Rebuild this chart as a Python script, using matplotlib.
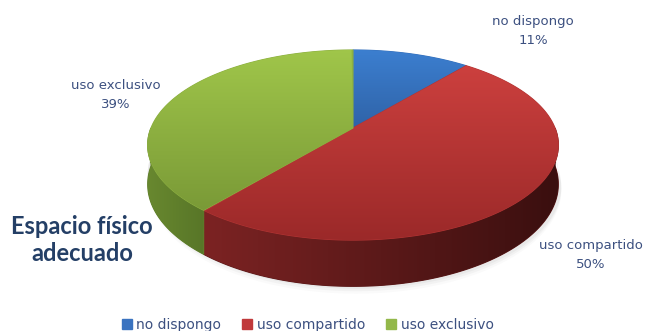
import numpy as np
import matplotlib
matplotlib.use("Agg")
import matplotlib.pyplot as plt
from matplotlib.path import Path
from matplotlib.patches import PathPatch, Polygon
from matplotlib.colors import to_rgb
from matplotlib.lines import Line2D

categories = ["no dispongo", "uso compartido", "uso exclusivo"]
shares = [11, 50, 39]

# top face (light, dark) and side wall (light, dark) per slice
top_colors = [("#3c7fd0", "#2f63a8"), ("#cc403e", "#9b2929"), ("#a0c64a", "#7a9a37")]
side_colors = [("#2c5a96", "#1d3d66"), ("#7c2323", "#3a0f0f"), ("#68882f", "#587628")]
legend_colors = ["#3a73c0", "#c0393b", "#93b84a"]
text_color = "#3c5080"

W, H = 645, 331
fig = plt.figure(figsize=(W / 100, H / 100), dpi=100)
ax = fig.add_axes([0, 0, 1, 1])
ax.set_xlim(0, W)
ax.set_ylim(H, 0)
ax.axis("off")

# simple perspective disc: centre, half-width, half-height, depth, perspective
cx, cy = 353, 128
B, A, depth, k = 202, 92, 38, 0.179


def proj(phi, drop=0.0):
    X, Z = np.sin(phi), np.cos(phi)
    s = 1.0 / (1.0 + k * Z)
    return cx + B * X * s, cy - A * Z * s + drop * s


def gradient_fill(verts, c0, c1, horizontal):
    verts = np.asarray(verts)
    a, b = np.array(to_rgb(c0)), np.array(to_rgb(c1))
    # solid base underneath so neighbouring faces leave no seams
    mid = (a + b) / 2
    ax.add_patch(Polygon(verts, closed=True, facecolor=mid, edgecolor=mid,
                         linewidth=0.8, zorder=2))
    path = Path(verts, closed=True)
    patch = PathPatch(path, facecolor="none", edgecolor="none")
    ax.add_patch(patch)
    x0, y0 = verts.min(axis=0)
    x1, y1 = verts.max(axis=0)
    t = np.linspace(0, 1, 256)
    grad = a[None, :] * (1 - t[:, None]) + b[None, :] * t[:, None]
    img = grad[None, :, :] if horizontal else grad[:, None, :]
    im = ax.imshow(img, extent=(x0, x1, y1, y0), origin="upper",
                   aspect="auto", interpolation="bilinear", zorder=2)
    im.set_clip_path(patch)


fractions = np.array(shares) / sum(shares)
edges = np.concatenate([[0], np.cumsum(fractions)]) * 2 * np.pi

# soft shadow under the front rim
front = np.linspace(np.pi / 2, 3 * np.pi / 2, 200)
for grow, alpha in [(6, 0.04), (4, 0.06), (2, 0.08)]:
    xs, ys = proj(front, depth + grow)
    xt, yt = proj(front[::-1], depth - 10)
    poly = np.column_stack([np.concatenate([xs + 3, xt]), np.concatenate([ys, yt])])
    ax.add_patch(Polygon(poly, closed=True, facecolor="#808080",
                         edgecolor="none", alpha=alpha, zorder=1))

# side walls (front half only)
for i in range(len(shares)):
    a0 = max(edges[i], np.pi / 2)
    a1 = min(edges[i + 1], 3 * np.pi / 2)
    if a1 <= a0:
        continue
    phi = np.linspace(a0, a1, 200)
    xt, yt = proj(phi)
    xb, yb = proj(phi[::-1], depth)
    verts = np.column_stack([np.concatenate([xt, xb]), np.concatenate([yt, yb])])
    gradient_fill(verts, *side_colors[i], horizontal=True)

# top faces
for i in range(len(shares)):
    phi = np.linspace(edges[i], edges[i + 1], 300)
    xt, yt = proj(phi)
    verts = np.column_stack([np.concatenate([[cx], xt]), np.concatenate([[cy], yt])])
    gradient_fill(verts, *top_colors[i], horizontal=False)

# data labels
label_xy = [(533, 31), (591, 255), (116, 95)]
for name, val, (lx, ly) in zip(categories, shares, label_xy):
    ax.text(lx, ly, f"{name}\n{val}%", ha="center", va="center",
            fontsize=9.5, color=text_color, linespacing=1.55,
            family="DejaVu Sans", zorder=5)

ax.text(82, 240, "Espacio físico\nadecuado", ha="center", va="center",
        multialignment="center", fontsize=17, fontweight="bold",
        color="#243f66", family="Lato", linespacing=1.25, zorder=5)

handles = [Line2D([], [], marker="s", linestyle="none", markersize=6.5,
                  markerfacecolor=c, markeredgecolor=c) for c in legend_colors]
fig.legend(handles, categories, loc="lower center", ncol=3, frameon=False,
           bbox_to_anchor=(0.477, -0.04), handlelength=0.7, handletextpad=0.35,
           columnspacing=1.5, labelcolor=text_color,
           prop={"family": "DejaVu Sans", "size": 10})

fig.savefig("out.png", dpi=100)
